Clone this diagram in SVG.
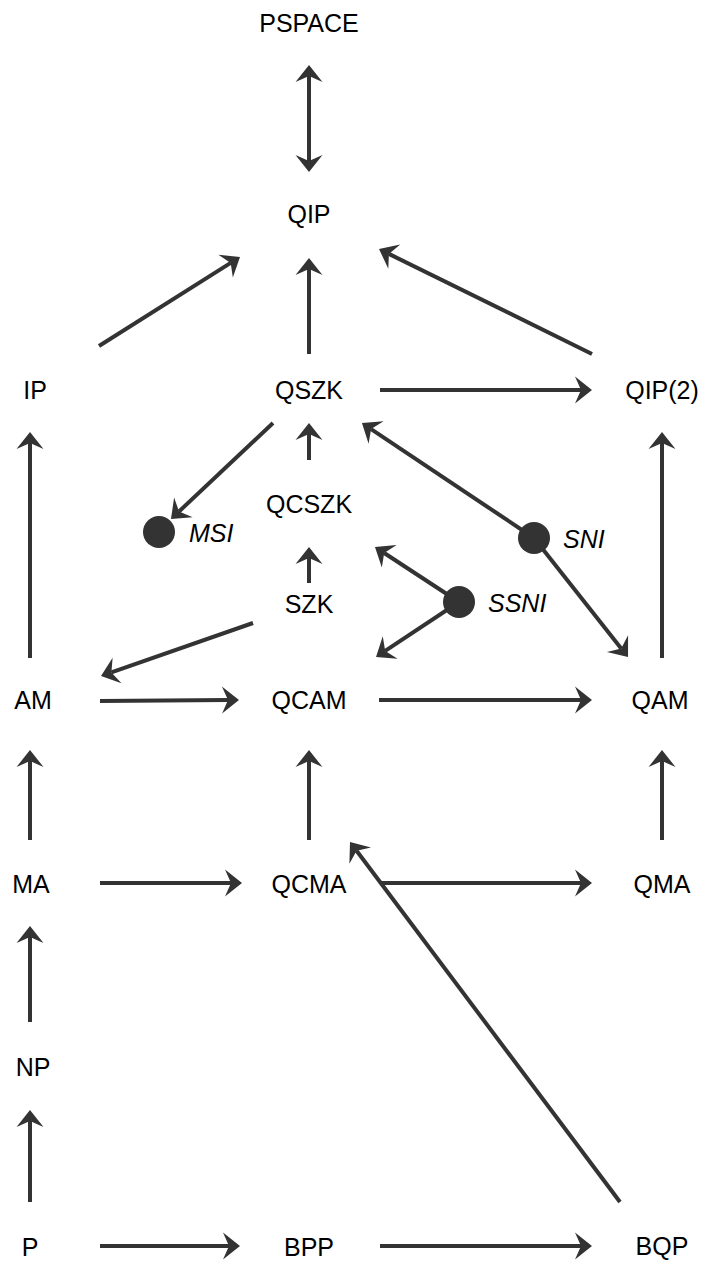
<svg xmlns="http://www.w3.org/2000/svg" width="702" height="1261" viewBox="0 0 702 1261">
  <style>
    .lbl { font-family: "Liberation Sans", Arial, sans-serif; font-size: 25px; fill: #000; text-anchor: middle; }
    .tag { font-family: "Liberation Sans", Arial, sans-serif; font-size: 25px; font-style: italic; fill: #000; }
    .edge { stroke: #333; stroke-width: 4; fill: none; marker-end: url(#head); }
    .dot { fill: #333; }
  </style>
  <defs>
    <marker id="head" viewBox="-8 -15 21 30" refX="0" refY="0" markerWidth="21" markerHeight="30" markerUnits="userSpaceOnUse" orient="auto-start-reverse">
      <path d="M11,0 L-6,-13.5 L0,0 L-6,13.5 Z" fill="#333"/>
    </marker>
  </defs>

  <g id="connectors">
    <line class="edge" x1="309" y1="76" x2="309" y2="161" style="marker-start: url(#head)"/>
    <line class="edge" x1="309" y1="354" x2="309" y2="269"/>
    <line class="edge" x1="99" y1="346" x2="230.7" y2="262.9"/>
    <line class="edge" x1="592" y1="354" x2="388.9" y2="253.9"/>
    <line class="edge" x1="380" y1="390" x2="581" y2="390"/>
    <line class="edge" x1="30" y1="658" x2="30" y2="443"/>
    <line class="edge" x1="662" y1="658" x2="662" y2="443"/>
    <line class="edge" x1="273" y1="423" x2="179" y2="511.5"/>
    <line class="edge" x1="309" y1="460" x2="309" y2="434"/>
    <line class="edge" x1="309" y1="583" x2="309" y2="558"/>
    <line class="edge" x1="534" y1="538" x2="371.1" y2="429.1"/>
    <line class="edge" x1="534" y1="538" x2="621.2" y2="648.4"/>
    <line class="edge" x1="459" y1="602" x2="384.2" y2="553"/>
    <line class="edge" x1="459" y1="602" x2="385.2" y2="650.9"/>
    <line class="edge" x1="253" y1="623" x2="111.4" y2="672.4"/>
    <line class="edge" x1="100" y1="701" x2="228" y2="700"/>
    <line class="edge" x1="379" y1="700" x2="581" y2="700"/>
    <line class="edge" x1="30" y1="840" x2="30" y2="761"/>
    <line class="edge" x1="309" y1="840" x2="309" y2="761"/>
    <line class="edge" x1="662" y1="840" x2="662" y2="761"/>
    <line class="edge" x1="100" y1="883" x2="231" y2="883"/>
    <line class="edge" x1="380" y1="883" x2="581" y2="883"/>
    <line class="edge" x1="30" y1="1022" x2="30" y2="937"/>
    <line class="edge" x1="30" y1="1202" x2="30" y2="1121"/>
    <line class="edge" x1="100" y1="1246" x2="229" y2="1246"/>
    <line class="edge" x1="380" y1="1246" x2="581" y2="1246"/>
    <line class="edge" x1="620" y1="1202" x2="356.6" y2="850.8"/>
  </g>

  <g id="PSPACE"><text class="lbl" x="309" y="32">PSPACE</text></g>
  <g id="QIP"><text class="lbl" x="309" y="223">QIP</text></g>
  <g id="IP"><text class="lbl" x="35" y="399">IP</text></g>
  <g id="QSZK"><text class="lbl" x="309" y="399">QSZK</text></g>
  <g id="QIP2"><text class="lbl" x="662" y="399">QIP(2)</text></g>
  <g id="QCSZK"><text class="lbl" x="309" y="513">QCSZK</text></g>
  <g id="SZK"><text class="lbl" x="309" y="613">SZK</text></g>
  <g id="AM"><text class="lbl" x="33" y="709">AM</text></g>
  <g id="QCAM"><text class="lbl" x="309" y="709">QCAM</text></g>
  <g id="QAM"><text class="lbl" x="660" y="709">QAM</text></g>
  <g id="MA"><text class="lbl" x="31" y="893">MA</text></g>
  <g id="QCMA"><text class="lbl" x="309" y="893">QCMA</text></g>
  <g id="QMA"><text class="lbl" x="662" y="893">QMA</text></g>
  <g id="NP"><text class="lbl" x="33" y="1076">NP</text></g>
  <g id="P"><text class="lbl" x="30" y="1256">P</text></g>
  <g id="BPP"><text class="lbl" x="309" y="1256">BPP</text></g>
  <g id="BQP"><text class="lbl" x="662" y="1255">BQP</text></g>

  <g id="MSI">
    <circle class="dot" cx="159" cy="532" r="16"/>
    <text class="tag" x="189" y="542">MSI</text>
  </g>
  <g id="SNI">
    <circle class="dot" cx="534" cy="538" r="16"/>
    <text class="tag" x="563" y="548">SNI</text>
  </g>
  <g id="SSNI">
    <circle class="dot" cx="459" cy="602" r="16"/>
    <text class="tag" x="488" y="612">SSNI</text>
  </g>
</svg>
